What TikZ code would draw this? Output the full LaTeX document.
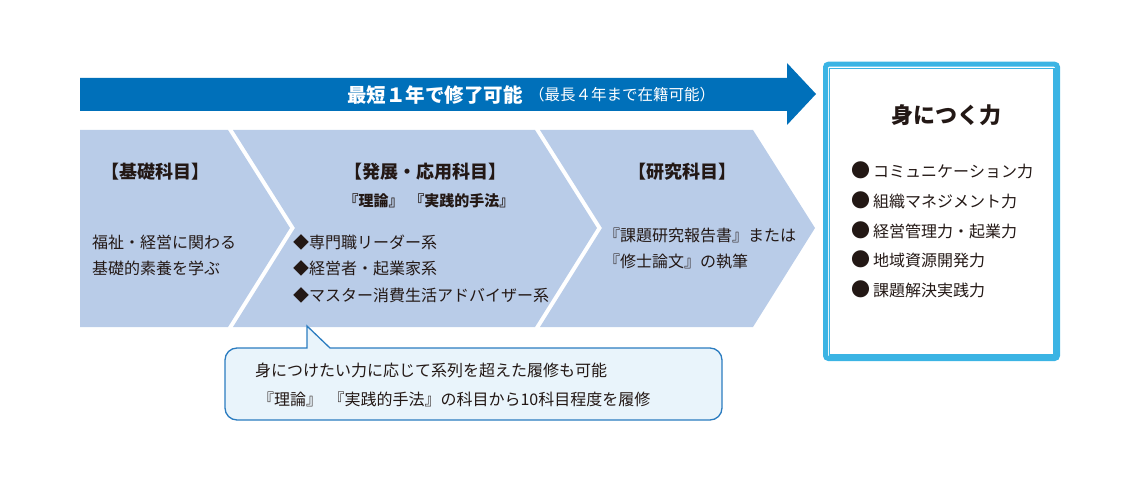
\documentclass[tikz,border=0pt]{standalone}
\usepackage{fontspec}
\setmainfont{Noto Sans CJK JP}[Kerning=Off]
\usepackage{xcolor}
\usetikzlibrary{positioning}

\definecolor{bandblue}{HTML}{0070BA}
\definecolor{chevfill}{HTML}{B9CCE8}
\definecolor{skyline}{HTML}{3BB4E4}
\definecolor{callline}{HTML}{2B7CC0}
\definecolor{callfill}{HTML}{E9F4FB}
\definecolor{ink}{HTML}{231815}
\newcommand{\bigdot}{{\fontsize{19}{16}\selectfont ●}\hspace{3pt}}
\newcommand{\brgap}{\hspace{0.4em}}

\begin{document}
\begin{tikzpicture}[x=1pt, y=-1pt,
        head/.style = {text=ink, inner sep=0, font=\bfseries\fontsize{18}{21}\selectfont},
        body/.style = {text=ink, inner sep=0, anchor=west, font=\fontsize{16}{19}\selectfont}]
    \useasboundingbox (0,0) rectangle (1141,481);

    % arrow across the top
    \fill[bandblue] (80,78) -- (787,78) -- (787,63) -- (816,94) -- (787,125) -- (787,111) -- (80,111) -- cycle;
    \node[anchor=west, inner sep=0, text=white, font=\bfseries\fontsize{19.5}{22}\selectfont] (short) at (347,95) {最短１年で修了可能};
    \node[anchor=west, inner sep=0, text=white, font=\fontsize{15.5}{18}\selectfont] (long) at (529,95) {（最長４年まで在籍可能）};

    % three chevrons
    \fill[chevfill] (80,130) -- (228,130) -- (290,228) -- (228,327) -- (80,327) -- cycle;
    \fill[chevfill] (233,130) -- (535,130) -- (597,228) -- (535,327) -- (233,327) -- (295,228) -- cycle;
    \fill[chevfill] (540,130) -- (753,130) -- (815,228) -- (753,327) -- (540,327) -- (602,228) -- cycle;

    \node[head] (basic) at (155,172) {【基礎科目】};
    \node[body] (basic1) at (92,242) {福祉・経営に関わる};
    \node[body] (basic2) at (92,268) {基礎的素養を学ぶ};

    \node[head] (advanced) at (425,172) {【発展・応用科目】};
    \node[head, font=\bfseries\fontsize{15}{18}\selectfont] (methods) at (429,201) {『理論』\brgap『実践的手法』};
    \node[body] (adv1) at (293,242) {◆専門職リーダー系};
    \node[body] (adv2) at (293,268) {◆経営者・起業家系};
    \node[body] (adv3) at (293,295) {◆マスター消費生活アドバイザー系};

    \node[head] (research) at (682,172) {【研究科目】};
    \node[body] (res1) at (604,235) {『課題研究報告書』または};
    \node[body] (res2) at (604,262) {『修士論文』の執筆};

    % skills box
    \draw[skyline, line width=5, rounded corners=3] (825.5,64.2) rectangle (1057.5,358.5);
    \draw[skyline, line width=1.2] (829.8,68.3) rectangle (1054,355);
    \node[head, font=\bfseries\fontsize{22}{25}\selectfont] (skills) at (946,115) {身につく力};
    \node[body] (sk1) at (851,170) {\bigdot コミュニケーション力};
    \node[body] (sk2) at (851,200) {\bigdot 組織マネジメント力};
    \node[body] (sk3) at (851,230) {\bigdot 経営管理力・起業力};
    \node[body] (sk4) at (851,259) {\bigdot 地域資源開発力};
    \node[body] (sk5) at (851,289) {\bigdot 課題解決実践力};

    % callout
    \draw[callline, fill=callfill, line width=1.3] (307,348) -- (307,326) -- (330,348) [rounded corners=12] -- (722,348) -- (722,420) -- (225,420) -- (225,348) [sharp corners] -- cycle;
    \node[body] (note1) at (255,370) {身につけたい力に応じて系列を超えた履修も可能};
    \node[body] (note2) at (258,399) {『理論』\brgap『実践的手法』の科目から10科目程度を履修};
\end{tikzpicture}
\end{document}
